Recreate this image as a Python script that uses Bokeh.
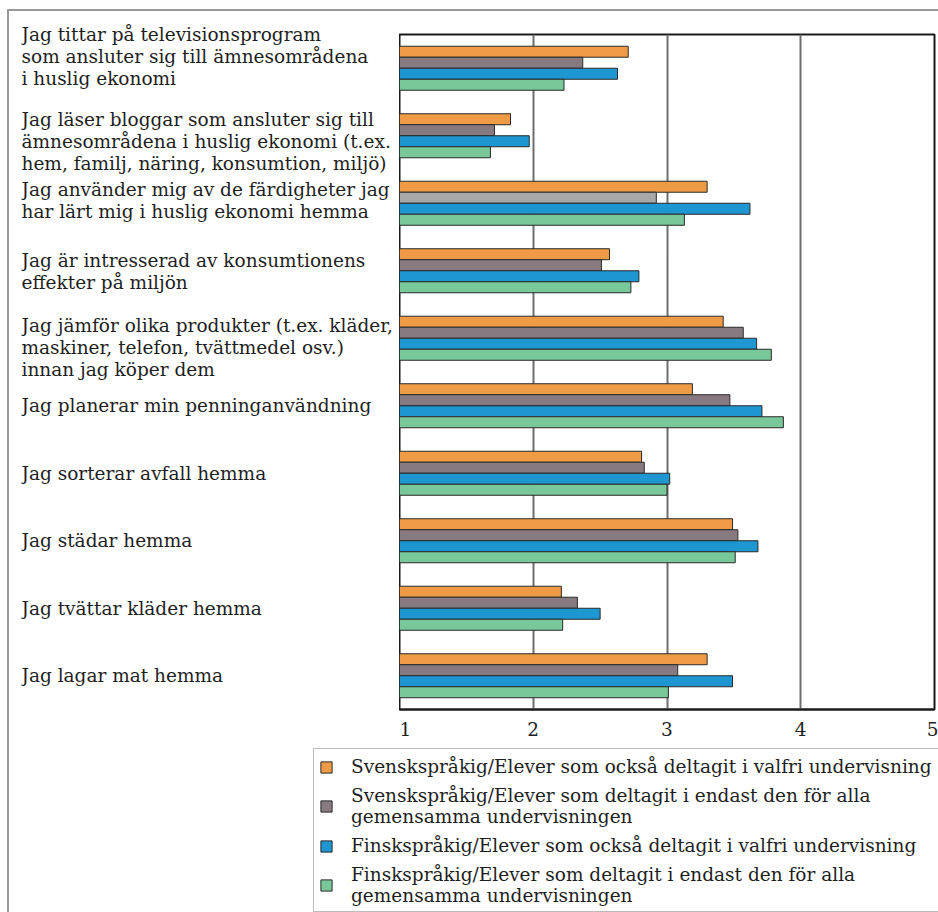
from bokeh.plotting import figure
from bokeh.models import ColumnDataSource, FactorRange, Range1d, Legend, LegendItem, FixedTicker
from bokeh.transform import dodge
from bokeh.layouts import row, column
from bokeh.embed import file_html
from bokeh.resources import INLINE
from bokeh.core.properties import value

# ---------------- data ----------------
statements = [
    "Jag tittar på televisionsprogram\nsom ansluter sig till ämnesområdena\ni huslig ekonomi",
    "Jag läser bloggar som ansluter sig till\nämnesområdena i huslig ekonomi (t.ex.\nhem, familj, näring, konsumtion, miljö)",
    "Jag använder mig av de färdigheter jag\nhar lärt mig i huslig ekonomi hemma",
    "Jag är intresserad av konsumtionens\neffekter på miljön",
    "Jag jämför olika produkter (t.ex.  kläder,\nmaskiner, telefon, tvättmedel osv.)\ninnan jag köper dem",
    "Jag planerar min penninganvändning",
    "Jag sorterar avfall hemma",
    "Jag städar hemma",
    "Jag tvättar kläder hemma",
    "Jag lagar mat hemma",
]
series_names = [
    "Svenskspråkig/Elever som också deltagit i valfri undervisning",
    "Svenskspråkig/Elever som deltagit i endast den för alla\ngemensamma undervisningen",
    "Finskspråkig/Elever som också deltagit i valfri undervisning",
    "Finskspråkig/Elever som deltagit i endast den för alla\ngemensamma undervisningen",
]
sv_valfri   = [2.71, 1.83, 3.30, 2.57, 3.42, 3.19, 2.81, 3.49, 2.21, 3.30]
sv_gemensam = [2.37, 1.71, 2.92, 2.51, 3.57, 3.47, 2.83, 3.53, 2.33, 3.08]
fi_valfri   = [2.63, 1.97, 3.62, 2.79, 3.67, 3.71, 3.02, 3.68, 2.50, 3.49]
fi_gemensam = [2.23, 1.68, 3.13, 2.73, 3.78, 3.87, 3.00, 3.51, 2.22, 3.01]
x_ticks = [1, 2, 3, 4, 5]

# ---------------- styles ----------------
FONT = "DejaVu Serif"
FSIZE = "18.5px"
TXT = "#1e1e1e"
colors = ["#EF9B45", "#877A80", "#1E96D2", "#78C89A"]
grey_fill = ["#877A80"] * 10
grey_fill[2] = "#A8A8A8"
label_offsets = [-12, 6, -3, 1, 9, 0, 0, 0, 0, 0]

n = len(statements)
src = ColumnDataSource(dict(
    cat=statements, sv_valfri=sv_valfri, sv_gemensam=sv_gemensam,
    fi_valfri=fi_valfri, fi_gemensam=fi_gemensam, grey_fill=grey_fill,
    yoff=label_offsets,
    # category centre in the same units a FactorRange uses (first item on top)
    ypos=[n - i - 0.5 for i in range(n)],
))

factors = list(reversed(statements))
y_range = FactorRange(factors=factors)

H = 730
TOP = 23
BOTTOM = 32
FRAME_H = H - TOP - BOTTOM          # 675 px
SLOT = FRAME_H / n                  # px per category
PAD = 22                            # extra px above/below for the label panel
pad_u = PAD / SLOT

# label figure (numeric range aligned with the factor range, with extra room)
lp = figure(width=390, height=H, x_range=Range1d(0, 1),
            y_range=Range1d(-pad_u, n + pad_u),
            x_axis_location=None, y_axis_location=None,
            toolbar_location=None, output_backend="svg",
            min_border_left=12, min_border_right=0,
            min_border_top=TOP - PAD, min_border_bottom=BOTTOM - PAD)
lp.frame_align = False
lp.outline_line_color = None
lp.grid.grid_line_color = None
lp.text(x=0, y="ypos", text="cat", y_offset="yoff", source=src,
        text_font=value(FONT), text_font_size=FSIZE, text_color=TXT,
        text_align="left", text_baseline="middle", text_line_height=1.05)

# bar figure
p = figure(width=539, height=H, x_range=Range1d(1, 5), y_range=y_range,
           y_axis_location=None, toolbar_location=None, output_backend="svg",
           min_border_left=0, min_border_right=4,
           min_border_top=TOP, min_border_bottom=BOTTOM)
p.frame_align = False
bh = 0.163
fields = ["sv_valfri", "sv_gemensam", "fi_valfri", "fi_gemensam"]
offsets = [1.5 * bh, 0.5 * bh, -0.5 * bh, -1.5 * bh]
for i, (f, off) in enumerate(zip(fields, offsets)):
    fill = "grey_fill" if i == 1 else colors[i]
    p.hbar(y=dodge("cat", off, range=y_range), left=1, right=f, height=bh,
           source=src, fill_color=fill, line_color="#2a2a2a", line_width=1)

p.outline_line_color = "#1a1a1a"
p.outline_line_width = 2
p.ygrid.grid_line_color = None
p.xgrid.grid_line_color = "#6e6e6e"
p.xgrid.grid_line_width = 2
p.xaxis.ticker = FixedTicker(ticks=x_ticks)
p.xaxis.axis_line_color = "#1a1a1a"
p.xaxis.axis_line_width = 2
p.xaxis.major_tick_line_color = None
p.xaxis.minor_tick_line_color = None
p.xaxis.major_label_standoff = 6
p.xaxis.major_label_text_font = FONT
p.xaxis.major_label_text_font_size = FSIZE
p.xaxis.major_label_text_color = TXT

# legend figure
lg = figure(width=929, height=171, x_range=Range1d(0, 1), y_range=Range1d(0, 1),
            x_axis_location=None, y_axis_location=None,
            toolbar_location=None, output_backend="svg",
            min_border_left=304, min_border_right=0,
            min_border_top=7, min_border_bottom=0)
lg.frame_align = False
lg.outline_line_color = None
lg.grid.grid_line_color = None
items = []
for i, name in enumerate(series_names):
    # swatch renderer placed outside the visible range; only its legend glyph is seen
    rr = lg.hbar(y=[-10], left=[-10], right=[-9], height=0.5,
                 fill_color=colors[i], line_color="#2a2a2a", line_width=1)
    items.append(LegendItem(label=name, renderers=[rr]))
legend = Legend(items=items, location="top_left", margin=0, padding=5,
                spacing=6, glyph_width=14, glyph_height=14, label_standoff=18,
                label_text_font=FONT, label_text_font_size=FSIZE,
                label_text_color=TXT, label_height=25, label_width=610,
                label_text_line_height=1.35,
                border_line_color="#777777", border_line_width=1.5,
                background_fill_alpha=1)
lg.add_layout(legend, "center")

layout = column(row(lp, p, spacing=0), lg, spacing=0,
                styles={"margin-left": "7px", "margin-top": "9px",
                        "border-top": "2px solid #9a9a9a",
                        "border-left": "2px solid #9a9a9a"})

open("out.html", "w").write(file_html(layout, INLINE, title="Huslig ekonomi"))
